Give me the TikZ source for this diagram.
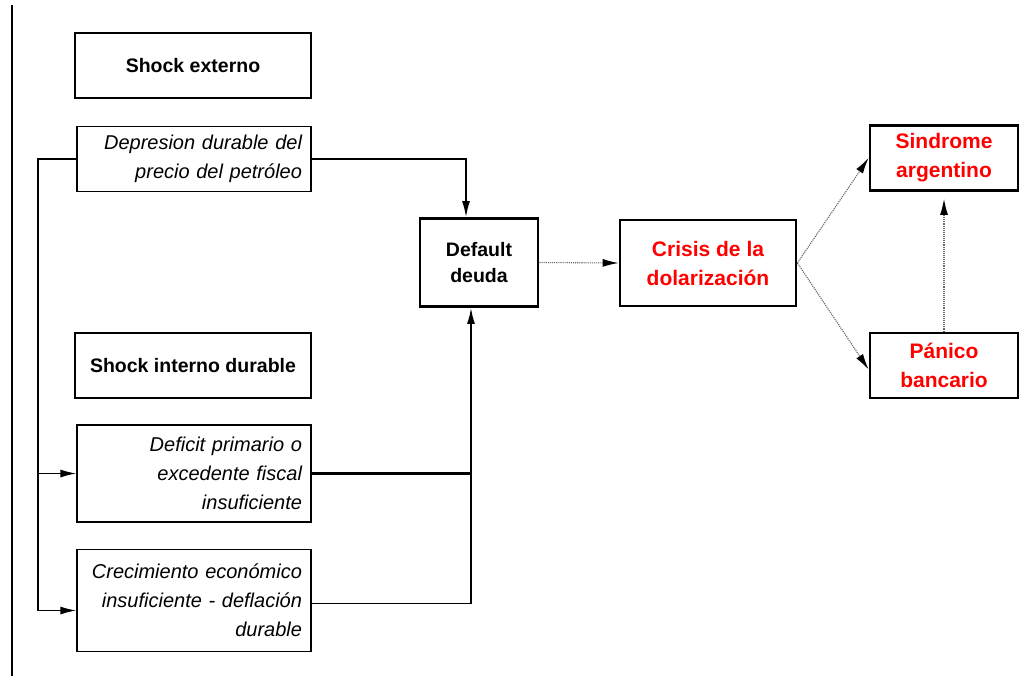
\documentclass[tikz,border=0pt]{standalone}
\usepackage{fontspec}
\setmainfont{Liberation Sans}
\usetikzlibrary{arrows.meta}
\tikzset{
  titlebox/.style={draw, line width=2.8pt, minimum width=236pt, minimum height=65pt, inner sep=0pt, align=center, font=\fontsize{19.5}{26}\selectfont\bfseries},
  causebox/.style={draw, line width=1.1pt, text width=216pt, inner sep=9pt, align=right, font=\fontsize{20}{29}\selectfont\itshape},
  redbox/.style={draw, line width=2.8pt, inner sep=0pt, align=center, text=red, font=\fontsize{21}{29}\selectfont\bfseries},
  arr/.style={-{Latex[length=16pt,width=8pt]}},
  dotarr/.style={densely dotted, gray!80!black, line width=1.1pt, -{Latex[length=16pt,width=8pt,black]}}
}
\begin{document}
\begin{tikzpicture}[x=1pt,y=-1pt]
\useasboundingbox (0,0) rectangle (1027,678);
\fill[white] (0,0) rectangle (1027,678);
\draw[line width=2.2pt] (12,5) -- (12,676);
% left column
\node[titlebox] (shext) at (193,65.5) {Shock externo};
\node[causebox, minimum height=64pt] (petro) at (194,159) {Depresion durable del\\precio del petróleo};
\node[titlebox] (shint) at (193,365.5) {Shock interno durable};
\node[causebox, minimum height=97pt] (fiscal) at (194,473.5) {Deficit primario o\\excedente fiscal\\insuficiente};
\node[causebox, minimum height=102pt] (growth) at (194,600.5) {Crecimiento económico\\insuficiente - deflación\\durable};
% right part
\node[titlebox, minimum width=118pt, minimum height=88pt] (debt) at (479,262.5) {Default\\deuda};
\node[redbox, minimum width=176pt, minimum height=86pt] (dollar) at (708,263) {Crisis de la\\dolarización};
\node[redbox, minimum width=148pt, minimum height=65pt] (argen) at (944,158) {Sindrome\\argentino};
\node[redbox, minimum width=148pt, minimum height=65pt] (panic) at (944,365.5) {Pánico\\bancario};
\coordinate (spine) at (38,0);
\coordinate (up) at ([xshift=-8pt]debt.south);
\draw[line width=1.6pt] (petro.west) -| (spine |- growth.west);
\draw[arr, line width=1.6pt] (spine |- fiscal.west) -- (fiscal.west);
\draw[arr, line width=1.6pt] ([yshift=-10pt]spine |- growth.west) -- ([yshift=-10pt]growth.west);
\draw[line width=1.6pt] (spine |- growth.west) -- ([yshift=-10pt]spine |- growth.west);
\draw[arr, line width=1.6pt] (petro.east) -| ([xshift=-13pt]debt.north);
\draw[line width=2.2pt] (fiscal.east) -- (fiscal.east -| up);
\draw[arr, line width=1.6pt] ([yshift=-3pt]growth.east) -| (up);
\draw[dotarr] (debt.east) -- (dollar.west);
\draw[dotarr] (dollar.east) -- (argen.west);
\draw[dotarr] (dollar.east) -- ([yshift=-4pt]panic.west);
\draw[dotarr, shorten >=7pt] (panic.north) -- (argen.south);
\end{tikzpicture}
\end{document}
